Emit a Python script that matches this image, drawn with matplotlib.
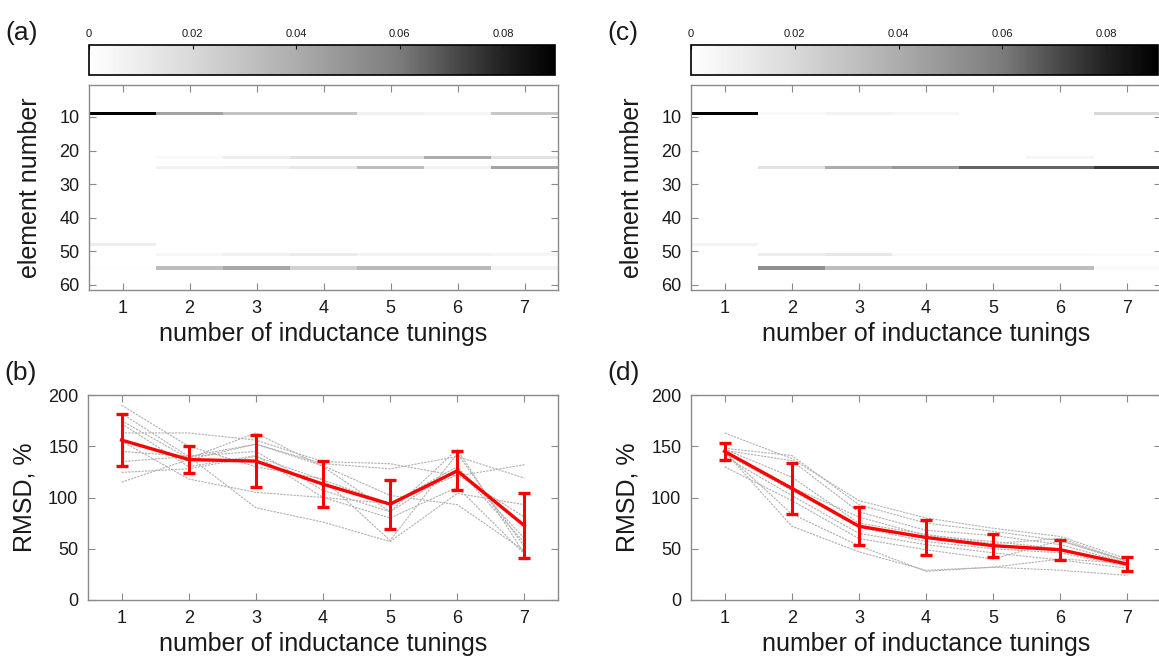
import matplotlib
matplotlib.use('Agg')
import matplotlib.pyplot as plt
import numpy as np
from matplotlib.colors import LinearSegmentedColormap

plt.rcParams['font.family'] = ['Liberation Sans', 'DejaVu Sans']

# ---- data ----
tunings = [1, 2, 3, 4, 5, 6, 7]
n_elements = 61

# heatmap rows that are non-zero (element number -> values per tuning count)
rows_a = {
    9:  [0.090, 0.044, 0.030, 0.030, 0.008, 0.005, 0.028],
    22: [0.000, 0.003, 0.009, 0.016, 0.016, 0.040, 0.015],
    25: [0.000, 0.007, 0.008, 0.012, 0.032, 0.007, 0.043],
    48: [0.009, 0.000, 0.000, 0.000, 0.000, 0.000, 0.000],
    51: [0.000, 0.004, 0.008, 0.010, 0.006, 0.007, 0.005],
    55: [0.001, 0.032, 0.042, 0.023, 0.034, 0.034, 0.007],
}
rows_c = {
    9:  [0.090, 0.003, 0.006, 0.004, 0.000, 0.000, 0.020],
    22: [0.000, 0.000, 0.000, 0.000, 0.000, 0.005, 0.000],
    25: [0.000, 0.015, 0.040, 0.048, 0.065, 0.065, 0.075],
    48: [0.006, 0.000, 0.000, 0.000, 0.000, 0.000, 0.000],
    51: [0.000, 0.009, 0.012, 0.003, 0.003, 0.003, 0.002],
    55: [0.000, 0.052, 0.032, 0.032, 0.032, 0.032, 0.003],
}

# RMSD: mean and half error bar
mean_b = [156, 137, 135.5, 113, 93.5, 126, 72.5]
err_b = [25.5, 13.5, 25, 22.5, 24, 19, 31.5]
mean_d = [145, 109, 72, 61, 53, 49, 35]
err_d = [8, 25, 18.5, 17, 11.5, 10, 6.5]

# individual runs (grey)
runs_b = [
    [190, 150, 130, 118, 58, 143, 52],
    [182, 140, 152, 133, 128, 140, 119],
    [175, 138, 163, 130, 86, 147, 45],
    [172, 130, 141, 100, 94, 130, 60],
    [163, 163, 156, 135, 133, 121, 132],
    [145, 140, 90, 76, 57, 104, 93],
    [135, 140, 145, 107, 86, 128, 56],
    [124.5, 128, 140, 117, 94, 122, 81],
    [115, 137, 152, 131, 102, 93, 48],
    [155, 118, 105, 100, 80, 110, 45],
]
runs_d = [
    [163, 138, 97, 80, 70, 62, 40],
    [148, 141, 93, 75, 67, 58, 38],
    [146, 136, 86, 68, 63, 54, 36],
    [145, 110, 81, 63, 57, 50, 34],
    [143, 107, 71, 57, 50, 46, 33],
    [140, 102, 65, 54, 46, 39, 31],
    [130, 97, 60, 49, 40, 58, 37],
    [144, 84, 53, 28, 32, 40, 36],
    [145, 72, 47, 29, 32, 29, 24],
    [147, 120, 75, 64, 55, 60, 38],
]

cb_ticks = [0, 0.02, 0.04, 0.06, 0.08]
cb_labels = ['0', '0.02', '0.04', '0.06', '0.08']
vmax = 0.09

# ---- style ----
W, H = 1159, 665
spine_c = '#8a8a8a'
text_c = '#1a1a1a'
cmap = LinearSegmentedColormap.from_list(
    'wb', [(0, (1, 1, 1)), (0.22, (0.85, 0.85, 0.85)), (0.44, (0.68, 0.68, 0.68)),
           (0.67, (0.48, 0.48, 0.48)), (0.78, (0.3, 0.3, 0.3)),
           (0.89, (0.13, 0.13, 0.13)), (1, (0, 0, 0))])


def pos(l, t, r, b):
    return [l / W, 1 - b / H, (r - l) / W, (b - t) / H]


def style_axes(ax):
    for s in ax.spines.values():
        s.set_color(spine_c)
        s.set_linewidth(1.0)
    ax.tick_params(direction='in', top=True, right=True, length=5, width=0.8,
                   color=spine_c, labelcolor=text_c, labelsize=13, pad=7)


fig = plt.figure(figsize=(W / 100, H / 100), dpi=100)

for rows, x0, x1, tag in [(rows_a, 89, 558, '(a)'), (rows_c, 691, 1161, '(c)')]:
    data = np.zeros((n_elements, len(tunings)))
    for el, vals in rows.items():
        data[el - 1, :] = vals

    ax = fig.add_axes(pos(x0, 85, x1, 290))
    im = ax.imshow(data, cmap=cmap, vmin=0, vmax=vmax, aspect='auto',
                   interpolation='nearest',
                   extent=[0.5, len(tunings) + 0.5, n_elements + 0.5, 0.5])
    ax.set_xticks(tunings)
    ax.set_yticks([10, 20, 30, 40, 50, 60])
    style_axes(ax)
    ax.set_xlabel('number of inductance tunings', fontsize=18, color=text_c, labelpad=4)
    ax.set_ylabel('element number', fontsize=18, color=text_c, labelpad=12)

    cax = fig.add_axes(pos(x0, 45, x1 - 3, 75))
    cb = fig.colorbar(im, cax=cax, orientation='horizontal')
    cb.set_ticks(cb_ticks)
    cb.set_ticklabels(cb_labels)
    cax.xaxis.set_ticks_position('top')
    cax.xaxis.set_label_position('top')
    cax.tick_params(direction='in', length=3, width=0.8, color=text_c,
                    labelsize=8, labelcolor=text_c, pad=4)
    cb.outline.set_edgecolor('black')
    cb.outline.set_linewidth(1.2)

    fig.text((x0 - 84) / W, 1 - 33 / H, tag, fontsize=19, color=text_c,
             ha='left', va='center')

for runs, mean, err, x0, x1, tag in [(runs_b, mean_b, err_b, 88, 558, '(b)'),
                                     (runs_d, mean_d, err_d, 691, 1161, '(d)')]:
    ax = fig.add_axes(pos(x0, 395, x1, 600))
    for r in runs:
        ax.plot(tunings, r, color='#b0b0b0', lw=0.8, linestyle=(0, (2, 1)))
    ax.errorbar(tunings, mean, yerr=err, color='#ff0000', lw=2.4,
                elinewidth=2.2, capsize=4, capthick=2.4, zorder=5)
    ax.set_xlim(0.5, 7.5)
    ax.set_ylim(0, 200)
    ax.set_xticks(tunings)
    ax.set_yticks([0, 50, 100, 150, 200])
    style_axes(ax)
    ax.set_xlabel('number of inductance tunings', fontsize=18, color=text_c, labelpad=4)
    ax.set_ylabel('RMSD, %', fontsize=18, color=text_c, labelpad=8)

    fig.text((x0 - 84) / W, 1 - 373 / H, tag, fontsize=19, color=text_c,
             ha='left', va='center')

fig.savefig('out.png', dpi=100)
